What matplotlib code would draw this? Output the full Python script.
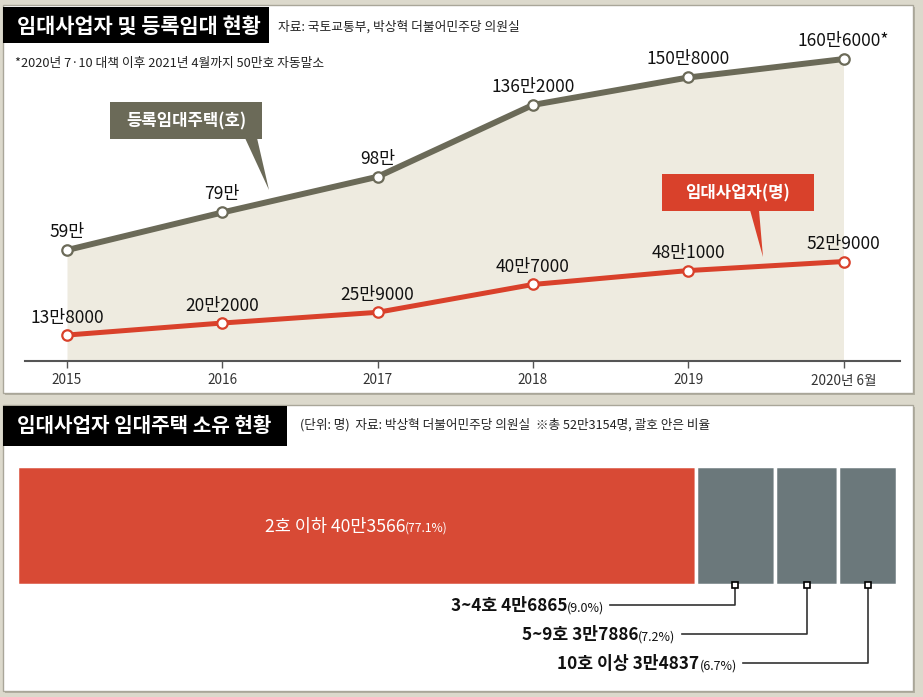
import matplotlib
matplotlib.use('Agg')
import matplotlib.pyplot as plt
from matplotlib.patches import Rectangle, Polygon
import numpy as np

plt.rcParams['font.family'] = ['Noto Sans CJK KR', 'DejaVu Sans']

# ---------------- data ----------------
years = ['2015', '2016', '2017', '2018', '2019', '2020년 6월']
houses = [59.0, 79.0, 98.0, 136.2, 150.8, 160.6]          # 등록임대주택 (만 호)
house_labels = ['59만', '79만', '98만', '136만2000', '150만8000', '160만6000*']
owners = [13.8, 20.2, 25.9, 40.7, 48.1, 52.9]             # 임대사업자 (만 명)
owner_labels = ['13만8000', '20만2000', '25만9000', '40만7000', '48만1000', '52만9000']

groups = ['2호 이하', '3~4호', '5~9호', '10호 이상']
counts = [403566, 46865, 37886, 34837]
count_labels = ['40만3566', '4만6865', '3만7886', '3만4837']
shares = ['(77.1%)', '(9.0%)', '(7.2%)', '(6.7%)']

# ---------------- figure ----------------
W, H = 923, 697
fig = plt.figure(figsize=(W / 100, H / 100), dpi=100)
fig.patch.set_facecolor('#dcd9cc')

def fx(px):
    return px / W

def fy(py):
    return 1 - py / H

GRAY = '#6b6a58'
RED = '#d9412b'
BAR_RED = '#d84a35'
BAR_GRAY = '#6b787b'
FILL = '#eeebe0'

bg = fig.add_axes([0, 0, 1, 1], zorder=0)
bg.set_xlim(0, W); bg.set_ylim(H, 0); bg.axis('off')
for (x0, y0, x1, y1) in [(3, 5, 913, 393), (3, 405, 913, 691)]:
    bg.add_patch(Rectangle((x0 + 2, y0 + 2), x1 - x0, y1 - y0, facecolor='#b3b0a2', edgecolor='none'))
    bg.add_patch(Rectangle((x0, y0), x1 - x0, y1 - y0, facecolor='white', edgecolor='#a9a699', lw=1))

# ---------------- line chart ----------------
x0px, x1px = 25, 900
base_px, top_px = 361, 40
first, step = 67, 155.3
ax = fig.add_axes([fx(x0px), fy(base_px), (x1px - x0px) / W, (base_px - top_px) / H], zorder=1)
ax.patch.set_alpha(0)
ax.set_xlim((x0px - first) / step, (x1px - first) / step)
ax.set_ylim(0, (base_px - top_px) / 1.88)
xs = np.arange(len(years))
ax.fill_between(xs, 0, houses, color=FILL, lw=0, zorder=1)
ax.plot(xs, houses, color=GRAY, lw=4.3, marker='o', ms=7.5, mfc='white', mec=GRAY, mew=1.6,
        solid_joinstyle='round', zorder=3)
ax.plot(xs, owners, color=RED, lw=3.6, marker='o', ms=7.5, mfc='white', mec=RED, mew=1.6,
        solid_joinstyle='round', zorder=3)
for i in range(len(years)):
    ax.annotate(house_labels[i], (xs[i], houses[i]), xytext=(0, 13), textcoords='offset points',
                ha='center', va='center', fontsize=12.5, color='#111')
    ax.annotate(owner_labels[i], (xs[i], owners[i]), xytext=(0, 12.5), textcoords='offset points',
                ha='center', va='center', fontsize=12.5, color='#111')
for s in ['top', 'left', 'right']:
    ax.spines[s].set_visible(False)
ax.spines['bottom'].set_color('#555')
ax.spines['bottom'].set_linewidth(1.5)
ax.set_xticks(xs, years, fontsize=9.8, color='#333')
ax.set_yticks([])
ax.tick_params(axis='x', length=5, width=1, color='#555', pad=4)

# ---------------- foreground decorations ----------------
fg = fig.add_axes([0, 0, 1, 1], zorder=5)
fg.patch.set_alpha(0)
fg.set_xlim(0, W); fg.set_ylim(H, 0); fg.axis('off')

fg.add_patch(Rectangle((3, 7), 266, 36, facecolor='black'))
fg.text(17, 26, '임대사업자 및 등록임대 현황', color='white', fontsize=15, weight='bold', va='center')
fg.text(278, 27, '자료: 국토교통부, 박상혁 더불어민주당 의원실', fontsize=9.2, va='center', color='#222')
fg.text(15, 64, '*2020년 7·10 대책 이후 2021년 4월까지 50만호 자동말소', fontsize=9.2, va='center', color='#222')

fg.add_patch(Rectangle((110, 102), 152, 37, facecolor=GRAY))
fg.add_patch(Polygon([(245, 138), (257, 138), (269, 190)], facecolor=GRAY))
fg.text(186, 121, '등록임대주택(호)', color='white', fontsize=12, weight='bold', ha='center', va='center')

fg.add_patch(Rectangle((662, 174), 152, 37, facecolor=RED))
fg.add_patch(Polygon([(750, 210), (759, 210), (763, 257)], facecolor=RED))
fg.text(738, 193, '임대사업자(명)', color='white', fontsize=12, weight='bold', ha='center', va='center')

fg.add_patch(Rectangle((3, 406), 284, 40, facecolor='black'))
fg.text(17, 425, '임대사업자 임대주택 소유 현황', color='white', fontsize=14.5, weight='bold', va='center')
fg.text(300, 425, '(단위: 명)  자료: 박상혁 더불어민주당 의원실  ※총 52만3154명, 괄호 안은 비율',
        fontsize=9.1, va='center', color='#222')

# ---------------- stacked bar ----------------
bx0, bx1, by0, by1 = 17, 897, 466, 585
bax = fig.add_axes([fx(bx0), fy(by1), (bx1 - bx0) / W, (by1 - by0) / H], zorder=2)
total = sum(counts)
lefts = np.concatenate([[0], np.cumsum(counts)[:-1]])
colors = [BAR_RED, BAR_GRAY, BAR_GRAY, BAR_GRAY]
bax.barh(0.5, counts, left=lefts, height=1, color=colors, edgecolor='white', lw=2.5)
bax.set_xlim(0, total); bax.set_ylim(0, 1); bax.axis('off')

renderer = fig.canvas.get_renderer()
px2pt = 72 / fig.dpi

def width_px(txt, size, weight='normal'):
    t = fig.text(0, 0, txt, fontsize=size, weight=weight)
    w = t.get_window_extent(renderer).width
    t.remove()
    return w

def two_part(axx, x, y, main, small, ha, color, msize, ssize, mweight, base_off):
    wm = width_px(main, msize, mweight)
    ws = width_px(small, ssize)
    tot = wm + ws
    start = -tot if ha == 'right' else -tot / 2
    axx.annotate(main, (x, y), xytext=(start * px2pt, -base_off), textcoords='offset points',
                 ha='left', va='baseline', fontsize=msize, weight=mweight, color=color,
                 annotation_clip=False)
    axx.annotate(small, (x, y), xytext=((start + wm) * px2pt, -base_off), textcoords='offset points',
                 ha='left', va='baseline', fontsize=ssize, color=color, annotation_clip=False)

two_part(bax, counts[0] / 2, 0.5, groups[0] + ' ' + count_labels[0], shares[0], 'center', 'white',
         12.6, 8.7, 'normal', 4.5)

label_px = [605, 634, 663]
line_len = 125 / (bx1 - bx0) * total
for k, i in enumerate(range(1, 4)):
    mid = lefts[i] + counts[i] / 2
    yl = (by1 - label_px[k]) / (by1 - by0)
    bax.plot([mid, mid, mid - line_len], [0, yl, yl], color='#333', lw=1.2, clip_on=False, zorder=4)
    bax.plot(mid, 0, marker='s', ms=5, mfc='white', mec='black', mew=1.2, clip_on=False, zorder=5)
    two_part(bax, mid - line_len - 6 / (bx1 - bx0) * total, yl,
             groups[i] + ' ' + count_labels[i], shares[i], 'right', '#111', 12.4, 9, 'bold', 4.5)

fig.savefig('out.png', dpi=100, facecolor=fig.get_facecolor())
